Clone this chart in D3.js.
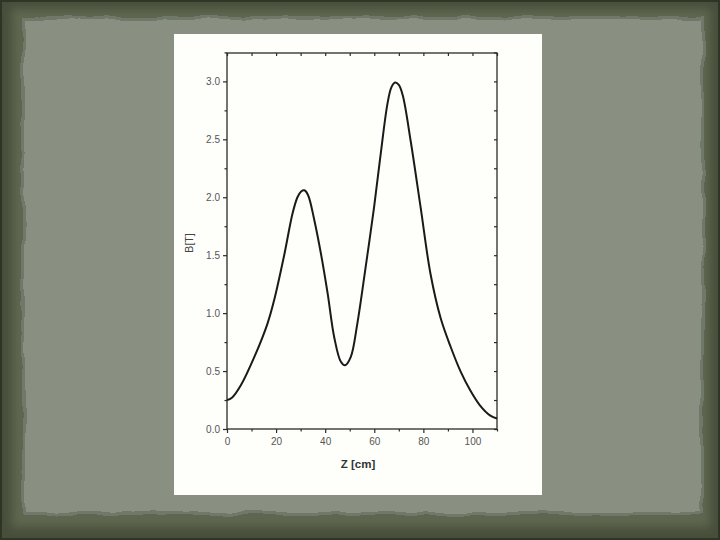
<!DOCTYPE html>
<html>
<head>
<meta charset="utf-8">
<script src="https://cdn.jsdelivr.net/npm/d3@7"></script>
<style>
  html, body { margin: 0; padding: 0; background: #4f573f; }
  svg { display: block; }
</style>
</head>
<body>
<svg id="slide" width="720" height="540"></svg>
<script>
// field profile
const zValues = [0, 2, 5.7, 11.1, 16.5, 19.3, 23.3, 26.7, 28.7, 30.2, 31.5, 33, 35.6, 38.3, 41.0, 43.7, 46.4, 48.1, 50.4, 53.1, 56.5, 59.9, 62.6, 65.4, 67, 68.5, 70, 71.6, 74.8, 78.9, 82.9, 87.0, 91.1, 95.1, 99.2, 103.2, 107.3, 110];
const bValues = [0.25, 0.27, 0.38, 0.62, 0.91, 1.12, 1.50, 1.86, 2.00, 2.05, 2.06, 2.02, 1.80, 1.51, 1.17, 0.79, 0.58, 0.55, 0.62, 0.91, 1.40, 1.91, 2.37, 2.81, 2.95, 2.99, 2.97, 2.88, 2.49, 1.91, 1.34, 0.96, 0.71, 0.50, 0.33, 0.20, 0.115, 0.09];
const xTicks = [0, 20, 40, 60, 80, 100];
const xMinor = [10, 30, 50, 70, 90, 110];
const yTicks = [0.0, 0.5, 1.0, 1.5, 2.0, 2.5, 3.0];
const yMinor = [0.25, 0.75, 1.25, 1.75, 2.25, 2.75, 3.25];

const svg = d3.select("#slide");
const W = 720, H = 540;

// ---- slide background (torn paper look)
const defs = svg.append("defs");
const grain = defs.append("filter").attr("id", "grain")
  .attr("x", 0).attr("y", 0).attr("width", "100%").attr("height", "100%");
grain.append("feTurbulence").attr("type", "fractalNoise")
  .attr("baseFrequency", 0.9).attr("numOctaves", 2).attr("seed", 3).attr("result", "n");
grain.append("feColorMatrix").attr("in", "n").attr("type", "matrix")
  .attr("values", "0 0 0 0 0  0 0 0 0 0  0 0 0 0 0  0 0 0 0.12 0").attr("result", "a");
grain.append("feComposite").attr("in", "a").attr("in2", "SourceGraphic").attr("operator", "in").attr("result", "b");
grain.append("feMerge").selectAll("feMergeNode").data(["SourceGraphic", "b"]).enter()
  .append("feMergeNode").attr("in", d => d);

const rough = defs.append("filter").attr("id", "rough")
  .attr("x", "-5%").attr("y", "-5%").attr("width", "110%").attr("height", "110%");
rough.append("feTurbulence").attr("type", "fractalNoise")
  .attr("baseFrequency", 0.025).attr("numOctaves", 3).attr("seed", 7).attr("result", "t");
rough.append("feDisplacementMap").attr("in", "SourceGraphic").attr("in2", "t")
  .attr("scale", 8).attr("xChannelSelector", "R").attr("yChannelSelector", "G");
const soft = defs.append("filter").attr("id", "soft");
soft.append("feGaussianBlur").attr("stdDeviation", 4);

svg.append("rect").attr("width", W).attr("height", H).attr("fill", "#474f3b");
svg.append("rect").attr("x", 1).attr("y", 1).attr("width", W - 2).attr("height", H - 2)
  .attr("fill", "none").attr("stroke", "#2f3526").attr("stroke-width", 2);
svg.append("rect").attr("x", 12).attr("y", 9).attr("width", 698).attr("height", 518)
  .attr("fill", "#5e6650").attr("filter", "url(#soft)");
svg.append("rect").attr("x", 22).attr("y", 17).attr("width", 682).attr("height", 498)
  .attr("fill", "#70786a").attr("filter", "url(#rough)");
svg.append("rect").attr("x", 25).attr("y", 20).attr("width", 676).attr("height", 492)
  .attr("fill", "#899082").attr("filter", "url(#rough)");
svg.append("rect").attr("width", W).attr("height", H).attr("fill", "#000")
  .attr("opacity", 0.0001).attr("filter", "url(#grain)");

// ---- white page with the figure
svg.append("rect").attr("x", 174).attr("y", 34).attr("width", 368).attr("height", 461)
  .attr("fill", "#fefefb");

const plot = { left: 227, right: 497, top: 53, bottom: 429 };
const x = d3.scaleLinear().domain([0, 110]).range([plot.left, plot.right]);
const y = d3.scaleLinear().domain([0, 3.245]).range([plot.bottom, plot.top]);

const g = svg.append("g").attr("font-family", "Liberation Sans, Arial, sans-serif");
const ink = "#2a2a2a";

// frame
g.append("rect").attr("x", plot.left).attr("y", plot.top)
  .attr("width", plot.right - plot.left).attr("height", plot.bottom - plot.top)
  .attr("fill", "none").attr("stroke", ink).attr("stroke-width", 1.3);

// bottom axis (outside ticks)
g.append("g").attr("transform", `translate(0,${plot.bottom})`)
  .call(d3.axisBottom(x).tickValues(xTicks).tickSize(4).tickPadding(5).tickFormat(d3.format("d")));
g.append("g").attr("transform", `translate(0,${plot.bottom})`)
  .call(d3.axisBottom(x).tickValues(xMinor).tickSize(2.5).tickFormat(""));
// left axis
g.append("g").attr("transform", `translate(${plot.left},0)`)
  .call(d3.axisLeft(y).tickValues(yTicks).tickSize(4).tickPadding(3).tickFormat(d3.format(".1f")));
g.append("g").attr("transform", `translate(${plot.left},0)`)
  .call(d3.axisLeft(y).tickValues(yMinor).tickSize(2.5).tickFormat(""));
// top and right axes, ticks pointing in
g.append("g").attr("transform", `translate(0,${plot.top})`)
  .call(d3.axisBottom(x).tickValues(xTicks.concat(xMinor)).tickSize(3).tickFormat(""));
g.append("g").attr("transform", `translate(${plot.right},0)`)
  .call(d3.axisLeft(y).tickValues(yTicks.concat(yMinor)).tickSize(3).tickFormat(""));

g.selectAll(".domain").attr("stroke", "none");
g.selectAll(".tick line").attr("stroke", ink).attr("stroke-width", 1.2);
g.selectAll(".tick text").attr("fill", "#555").attr("font-size", 10)
  .attr("font-family", "Liberation Sans, Arial, sans-serif");

// axis titles
g.append("text").attr("transform", "translate(193,243) rotate(-90)")
  .attr("text-anchor", "middle").attr("font-size", 10.5).attr("fill", "#444").text("B[T]");
g.append("text").attr("x", 358).attr("y", 468).attr("text-anchor", "middle")
  .attr("font-size", 11.5).attr("font-weight", "bold").attr("fill", "#333").text("Z [cm]");

// curve
const pts = zValues.map((z, i) => [z, bValues[i]]);
g.append("path").datum(pts)
  .attr("fill", "none").attr("stroke", "#1a1a1a").attr("stroke-width", 2)
  .attr("stroke-linejoin", "round")
  .attr("d", d3.line().x(d => x(d[0])).y(d => y(d[1])).curve(d3.curveCatmullRom.alpha(0.5)));
</script>
</body>
</html>
